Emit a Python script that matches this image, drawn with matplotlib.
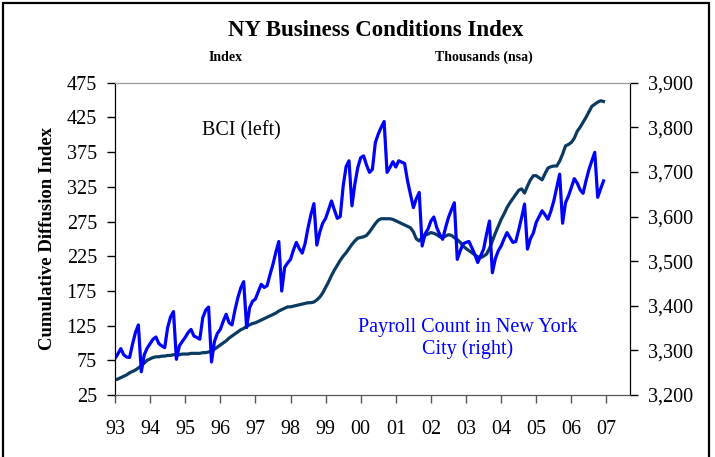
import numpy as np
import matplotlib
matplotlib.use("Agg")
import matplotlib.pyplot as plt
from matplotlib.patches import Rectangle
from matplotlib.ticker import FuncFormatter

# monthly data, Jan 1993 - Dec 2006
bci = [
    47, 48, 50, 52, 54, 57, 59, 61, 64, 67, 71, 75,
    77, 79, 80, 80, 81, 81, 82, 82, 83, 83, 83, 84,
    84, 84, 85, 85, 85, 85, 86, 86, 87, 88, 91, 94,
    97, 100, 103, 107, 110, 113, 116, 119, 121, 124, 126, 128,
    129, 131, 133, 135, 137, 139, 141, 143, 146, 148, 150, 152,
    152, 153, 154, 155, 156, 157, 158, 158, 159, 162, 166, 172,
    180, 188, 197, 205, 212, 219, 225, 230, 236, 242, 247, 251,
    252, 253, 255, 260, 266, 272, 277, 279, 279, 279, 279, 278,
    276, 274, 272, 270, 268, 266, 260, 250, 247, 252, 255, 257,
    259, 258, 256, 253, 252, 254, 256, 255, 252, 249, 245, 240,
    236, 233, 230, 227, 224, 223, 225, 228, 236, 247, 258, 268,
    278, 286, 295, 302, 308, 314, 320, 322, 316, 326, 335, 341,
    341, 338, 335, 344, 352, 354, 355, 355, 362, 372, 384, 386,
    389, 395, 405, 411, 418, 425, 433, 441, 444, 447, 449, 448,
]

payroll = [
    3282, 3292, 3304, 3290, 3285, 3284, 3314, 3340, 3357, 3252, 3290, 3305,
    3315, 3325, 3330, 3315, 3310, 3306, 3351, 3375, 3387, 3280, 3310, 3320,
    3329, 3340, 3347, 3332, 3329, 3325, 3373, 3390, 3397, 3274, 3320, 3338,
    3347, 3365, 3381, 3362, 3357, 3390, 3418, 3440, 3454, 3351, 3395, 3410,
    3415, 3432, 3448, 3441, 3445, 3470, 3493, 3520, 3544, 3433, 3486, 3496,
    3504, 3525, 3542, 3528, 3518, 3540, 3575, 3605, 3629, 3536, 3565, 3585,
    3596, 3615, 3635, 3615, 3596, 3600, 3668, 3712, 3725, 3624, 3673, 3710,
    3732, 3736, 3715, 3699, 3706, 3766, 3785, 3800, 3813, 3699, 3710, 3723,
    3711, 3725, 3722, 3719, 3680, 3650, 3620, 3640, 3654, 3534, 3561, 3572,
    3590, 3599, 3575, 3560, 3549, 3575, 3598, 3615, 3631, 3504, 3523, 3539,
    3542, 3544, 3530, 3515, 3497, 3512, 3527, 3560, 3590, 3474, 3505, 3523,
    3534, 3550, 3564, 3553, 3542, 3544, 3570, 3598, 3628, 3527, 3550, 3563,
    3587, 3600, 3613, 3604, 3594, 3612, 3635, 3665, 3695, 3585, 3631, 3646,
    3665, 3685, 3675, 3660, 3652, 3680, 3705, 3725, 3744, 3643, 3662, 3680,
]

years = list(range(1993, 2008))
year_labels = ["93", "94", "95", "96", "97", "98", "99", "00",
               "01", "02", "03", "04", "05", "06", "07"]
left_ticks = list(range(25, 476, 50))
right_ticks = list(range(3200, 3901, 100))

x = 1993 + np.arange(len(bci)) / 12.0

plt.rcParams['font.family'] = ['Liberation Serif', 'DejaVu Serif']

fig = plt.figure(figsize=(7.15, 4.57), dpi=100)
ax = fig.add_axes([0.1608, 0.1357, 0.7203, 0.6833])
ax2 = ax.twinx()

ax.plot(x, bci, color='#0b3a63', lw=2.3, solid_joinstyle='round')
ax2.plot(x, payroll, color='#0000ff', lw=2.3, solid_joinstyle='round')

ax.set_xlim(1993, 2007.67)
ax.set_ylim(25, 475)
ax2.set_ylim(3200, 3900)
ax.set_xticks(years)
ax.set_xticklabels(year_labels)
ax.set_yticks(left_ticks)
ax2.set_yticks(right_ticks)
ax2.yaxis.set_major_formatter(FuncFormatter(lambda v, p: f"{int(v):,}"))

ax.tick_params(axis='y', direction='out', length=6, width=1, pad=7, labelsize=14.5)
ax.tick_params(axis='x', direction='out', length=6, width=1, pad=12, labelsize=14.5,
               color='#555555')
ax2.tick_params(axis='y', direction='out', length=6, width=1, pad=7, labelsize=14.5)

for a in (ax, ax2):
    a.spines['top'].set_color('#999999')
    a.spines['bottom'].set_color('#555555')
    a.spines['left'].set_color('black')
    a.spines['right'].set_color('black')

ax.set_ylabel('Cumulative Diffusion Index', fontsize=13.5, fontweight='bold', labelpad=8)

fig.text(0.526, 0.934, 'NY Business Conditions Index', ha='center', va='center',
         fontsize=16.5, fontweight='bold')
fig.text(0.315, 0.874, 'Index', ha='center', va='center', fontsize=10, fontweight='bold')
fig.text(0.677, 0.874, 'Thousands (nsa)', ha='center', va='center', fontsize=10,
         fontweight='bold')

ax.text(0.245, 0.845, 'BCI (left)', transform=ax.transAxes, ha='center', va='center',
        fontsize=14.5)
ax.text(0.685, 0.18, 'Payroll Count in New York\nCity (right)', transform=ax.transAxes,
        ha='center', va='center', fontsize=14.5, color='#0000ff', linespacing=1.15)

fig.patches.append(Rectangle((3 / 715, -0.05), 706 / 715, 1.05 - 3 / 457,
                             transform=fig.transFigure, fill=False,
                             edgecolor='black', lw=1.6))

fig.savefig('out.png', dpi=100)
